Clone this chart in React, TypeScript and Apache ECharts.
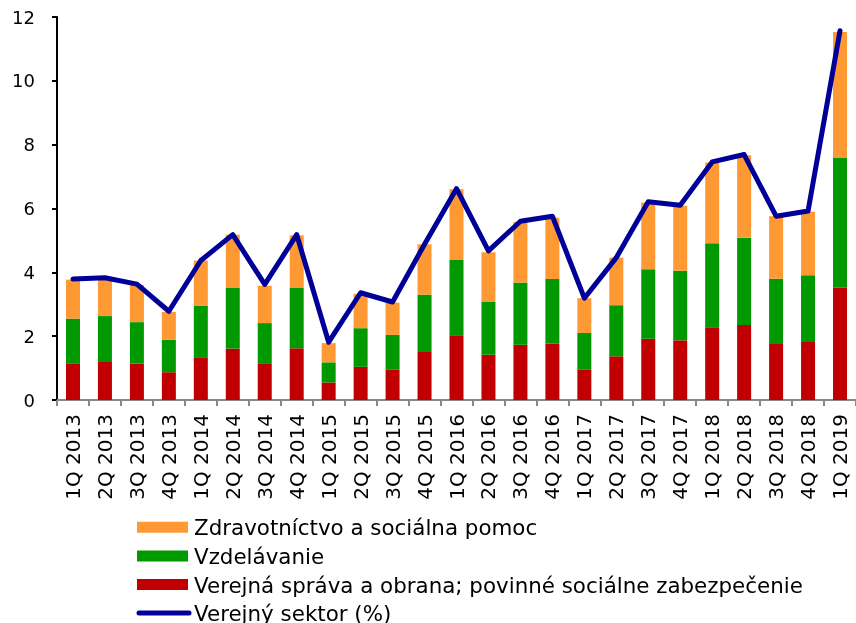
import React, { useEffect, useRef } from "react";
import * as echarts from "echarts";

const categories = [
  "1Q 2013", "2Q 2013", "3Q 2013", "4Q 2013",
  "1Q 2014", "2Q 2014", "3Q 2014", "4Q 2014",
  "1Q 2015", "2Q 2015", "3Q 2015", "4Q 2015",
  "1Q 2016", "2Q 2016", "3Q 2016", "4Q 2016",
  "1Q 2017", "2Q 2017", "3Q 2017", "4Q 2017",
  "1Q 2018", "2Q 2018", "3Q 2018", "4Q 2018",
  "1Q 2019",
];

const verejnaSprava = [1.15, 1.19, 1.14, 0.87, 1.34, 1.61, 1.13, 1.62, 0.55, 1.04, 0.96, 1.53, 2.03, 1.42, 1.73, 1.76, 0.96, 1.37, 1.92, 1.87, 2.28, 2.35, 1.78, 1.82, 3.52];
const vzdelavanie = [1.40, 1.44, 1.30, 1.02, 1.62, 1.90, 1.28, 1.89, 0.63, 1.21, 1.08, 1.77, 2.36, 1.65, 1.95, 2.03, 1.14, 1.60, 2.18, 2.18, 2.63, 2.73, 2.02, 2.09, 4.06];
const zdravotnictvo = [1.22, 1.18, 1.17, 0.87, 1.41, 1.67, 1.17, 1.65, 0.60, 1.08, 1.01, 1.58, 2.21, 1.56, 1.90, 1.92, 1.09, 1.49, 2.09, 2.04, 2.53, 2.59, 1.96, 1.99, 3.95];
const verejnySektor = [3.79, 3.83, 3.63, 2.78, 4.37, 5.18, 3.62, 5.18, 1.81, 3.36, 3.07, 4.88, 6.62, 4.67, 5.60, 5.76, 3.19, 4.46, 6.21, 6.10, 7.46, 7.69, 5.76, 5.92, 11.57];

const names = {
  zdrav: "Zdravotníctvo a sociálna pomoc",
  vzdel: "Vzdelávanie",
  sprava: "Verejná správa a obrana; povinné sociálne zabezpečenie",
  sektor: "Verejný sektor (%)",
};

const colors = {
  zdrav: "#FF9933",
  vzdel: "#009900",
  sprava: "#C00000",
  sektor: "#000099",
};

const FONT = "DejaVu Sans, Verdana, sans-serif";

const legendItems = [
  { name: names.zdrav, color: colors.zdrav, kind: "rect" },
  { name: names.vzdel, color: colors.vzdel, kind: "rect" },
  { name: names.sprava, color: colors.sprava, kind: "rect" },
  { name: names.sektor, color: colors.sektor, kind: "line" },
];

export default function App() {
  const ref = useRef<HTMLDivElement>(null);
  useEffect(() => {
    if (!ref.current) return;
    const chart = echarts.init(ref.current, null, { renderer: "svg" });

    const legendTop = 527.3;
    const legendStep = 28.6;
    const graphic: any[] = [];
    legendItems.forEach((it, i) => {
      const cy = legendTop + i * legendStep;
      if (it.kind === "rect") {
        graphic.push({
          type: "rect",
          shape: { x: 137, y: cy - 5.5, width: 51, height: 11 },
          style: { fill: it.color },
        });
      } else {
        graphic.push({
          type: "line",
          shape: { x1: 139, y1: cy, x2: 189, y2: cy },
          style: { stroke: it.color, lineWidth: 5, lineCap: "round" },
        });
      }
      graphic.push({
        type: "text",
        x: 194,
        y: cy + 0.5,
        style: {
          text: it.name,
          fill: "#000",
          font: `21.4px ${FONT}`,
          verticalAlign: "middle",
          align: "left",
        },
      });
    });

    chart.setOption({
      animation: false,
      textStyle: { fontFamily: FONT },
      grid: { left: 57, right: -6, top: 17, bottom: 223, containLabel: false },
      graphic,
      xAxis: {
        type: "category",
        data: categories,
        boundaryGap: true,
        axisLine: { lineStyle: { color: "#888", width: 2 } },
        axisTick: { show: true, length: 6, lineStyle: { color: "#888", width: 2 } },
        axisLabel: { rotate: 90, fontSize: 20, color: "#000", margin: 14, interval: 0, fontFamily: FONT },
      },
      yAxis: {
        type: "value",
        min: 0,
        max: 12,
        interval: 2,
        splitLine: { show: false },
        axisLine: { show: true, lineStyle: { color: "#000", width: 2 } },
        axisTick: { show: true, length: 5, lineStyle: { color: "#000", width: 2 } },
        axisLabel: { fontSize: 18, color: "#000", margin: 22, fontFamily: FONT },
      },
      series: [
        {
          name: names.sprava,
          type: "bar",
          stack: "a",
          barWidth: 14,
          data: verejnaSprava,
          itemStyle: { color: colors.sprava },
        },
        {
          name: names.vzdel,
          type: "bar",
          stack: "a",
          barWidth: 14,
          data: vzdelavanie,
          itemStyle: { color: colors.vzdel },
        },
        {
          name: names.zdrav,
          type: "bar",
          stack: "a",
          barWidth: 14,
          data: zdravotnictvo,
          itemStyle: { color: colors.zdrav },
        },
        {
          name: names.sektor,
          type: "line",
          data: verejnySektor,
          symbol: "none",
          lineStyle: { color: colors.sektor, width: 5, join: "round", cap: "round" },
          itemStyle: { color: colors.sektor },
          z: 5,
        },
      ],
    });
    return () => chart.dispose();
  }, []);
  return <div ref={ref} style={{ width: 856, height: 623, position: "fixed", left: 0, top: 0 }} />;
}
